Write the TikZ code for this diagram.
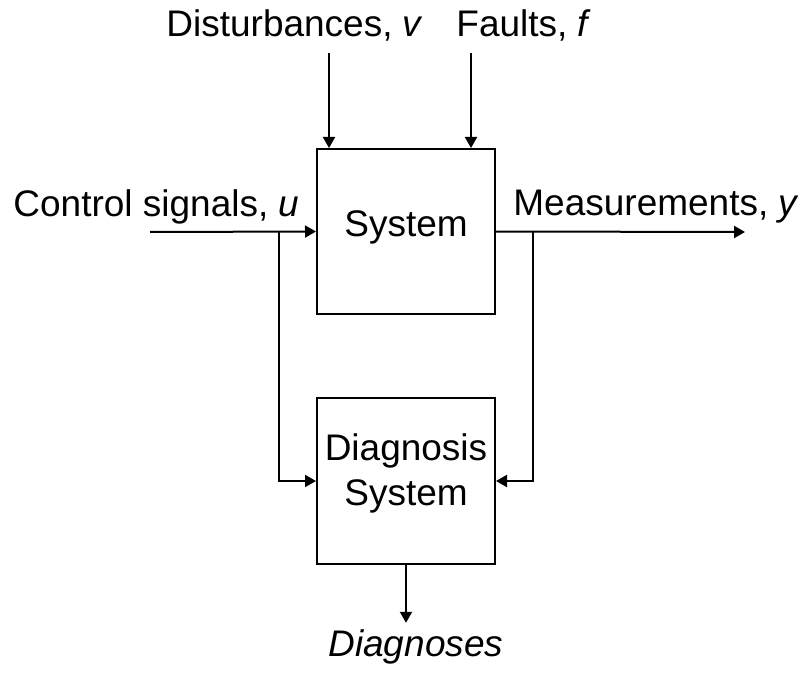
\documentclass[tikz,border=0pt]{standalone}
\usepackage{fontspec}
\setmainfont{Liberation Sans}
\usepackage{tikz}
\usetikzlibrary{arrows.meta,positioning}

\begin{document}
\begin{tikzpicture}[x=0.5pt,y=-0.5pt, font=\fontsize{18.5}{22.5}\selectfont,
  block/.style={draw, line width=1pt, minimum width=89pt, inner sep=0pt, align=center},
  sig/.style={line width=1pt, -{Triangle[length=5.5pt,width=6pt]}},
  lbl/.style={inner sep=0pt, anchor=base west}]

% Fix the picture area
\useasboundingbox (0,0) rectangle (807,679);

% Draw the system and the diagnosis system
\node[block, minimum height=82.5pt, text depth=7.9pt] (sys) at (406,231.5) {System};
\node[block, minimum height=83pt, text depth=11.9pt] (diag) at (406,481) {Diagnosis\\System};

% Label the signals
\node[lbl] (dist) at (166,37) {Disturbances, \textit{v}};
\node[lbl] (flt) at (456,37) {Faults, \textit{f}};
\node[lbl] (ctrl) at (13,216) {Control signals, \textit{u}};
\node[lbl] (meas) at (513,215) {Measurements, \textit{y}};
\node[lbl, font=\fontsize{18.5}{22.5}\selectfont\itshape] (dres) at (328,656) {Diagnoses};

% Free ends of the connectors
\coordinate (vin) at (329,53);
\coordinate (fin) at (471,53);
\coordinate (uin) at (150,232);
\coordinate (ubr) at (279,232);
\coordinate (yout) at (745,232);
\coordinate (ybr) at (533,232);

% Draw inputs to the system
\draw[sig] (vin) -- (vin |- sys.north);
\draw[sig] (fin) -- (fin |- sys.north);
\draw[sig] (uin) -- (sys.west);
\draw[sig] (sys.east) -- (yout);

% Draw branches to the diagnosis system
\draw[sig] (ubr) |- (diag.west);
\draw[sig] (ybr) |- (diag.east);
\draw[sig, shorten >=3pt] (diag.south) -- (diag.south |- dres.north);

\end{tikzpicture}
\end{document}
